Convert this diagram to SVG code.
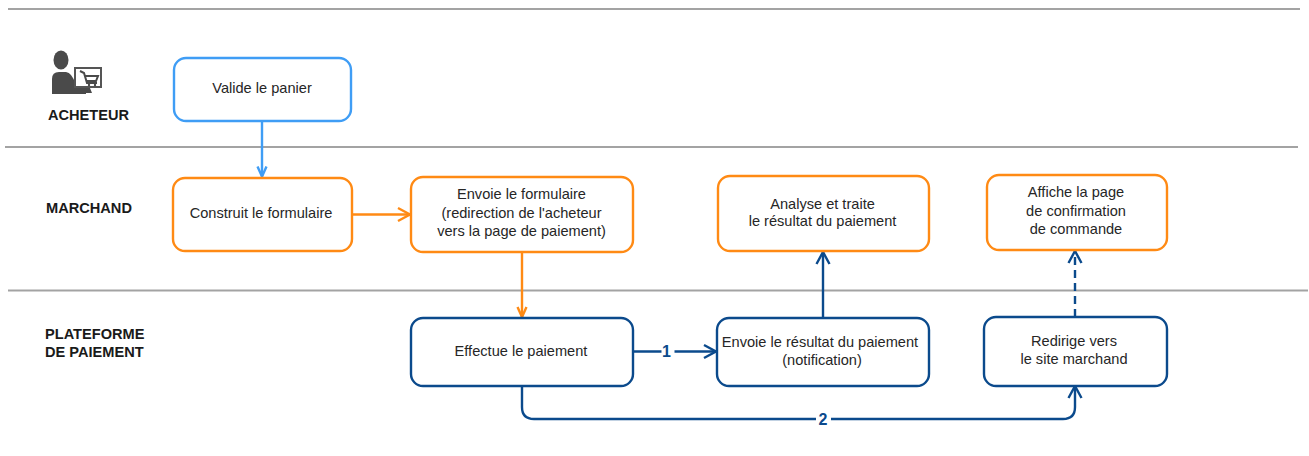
<svg xmlns="http://www.w3.org/2000/svg" width="1309" height="456" viewBox="0 0 1309 456">
<defs>
<marker id="ab" markerUnits="userSpaceOnUse" markerWidth="18" markerHeight="18" refX="14" refY="9" orient="auto"><path d="M2 2.500L14 9L2 15.500" fill="none" stroke="context-stroke" stroke-width="2.400"/></marker>
<marker id="as" markerUnits="userSpaceOnUse" markerWidth="16" markerHeight="16" refX="12" refY="8" orient="auto"><path d="M2 3.500L12 8L2 12.500" fill="none" stroke="context-stroke" stroke-width="2.400"/></marker>
</defs>
<style>
text{font-family:"Liberation Sans",Arial,sans-serif;font-size:14.6px;fill:#262626;text-anchor:middle}
.h{font-weight:bold;text-anchor:start;fill:#1a1a1a}
.b{fill:#fff;stroke-width:2.4}
.blue{stroke:#3f9df5}.or{stroke:#ff8a14}.nv{stroke:#0b4a8c}
.c{fill:none;stroke-width:2.4;marker-end:url(#ab)}
.s{marker-end:url(#as)}
.sep{stroke:#a3a3a3;stroke-width:2}
.n{fill:#0b4a8c;font-weight:bold;font-size:16px}
</style>
<rect width="1309" height="456" fill="#fff"/>
<g id="separators">
<line class="sep" x1="8" y1="9" x2="1300" y2="9"/>
<line class="sep" x1="5" y1="147" x2="1298" y2="147"/>
<line class="sep" x1="8" y1="290.500" x2="1308" y2="290.500"/>
</g>
<g id="lane-acheteur">
<g fill="#4a4a4a"><ellipse cx="61" cy="60" rx="7.500" ry="9.500"/><path d="M52 94V79Q52 72 59 72H66Q72 73 75 83L79 88H90L92 93H86V94Z"/></g>
<rect x="75" y="68" width="26" height="19" fill="#fff" stroke="#555" stroke-width="2"/>
<path d="M80 71L84 73L87 83H97M85 76H98L96 81H86" fill="none" stroke="#4a4a4a" stroke-width="2"/>
<circle cx="89" cy="85" r="1.200" fill="#4a4a4a"/><circle cx="95" cy="85" r="1.200" fill="#4a4a4a"/>
<text class="h" x="48" y="120">ACHETEUR</text>
</g>
<text id="lane-marchand" class="h" x="46" y="213">MARCHAND</text>
<g id="lane-plateforme"><text class="h" x="45" y="339">PLATEFORME</text><text class="h" x="45" y="357">DE PAIEMENT</text></g>
<g id="connectors">
<path class="c s blue" d="M262 121V176.500"/>
<path class="c or" d="M352 214.500H410"/>
<path class="c s or" d="M522 252V317"/>
<path class="c nv" d="M823 318V252"/>
<path class="c nv" d="M1075 317V251" stroke-dasharray="8 5"/>
<path class="c nv" d="M632 351.500H716"/>
<path class="c nv" d="M522 386V407Q522 419 534 419H1063Q1075 419 1075 407V386"/>
<rect x="661.500" y="343" width="13" height="17" fill="#fff"/><text class="n" x="666.500" y="357">1</text>
<rect x="816" y="411" width="15" height="17" fill="#fff"/><text class="n" x="823" y="425">2</text>
</g>
<g id="n1"><rect class="b blue" x="174" y="58" width="177" height="63" rx="12"/><text x="262" y="93">Valide le panier</text></g>
<g id="n2"><rect class="b or" x="173" y="178" width="179" height="73" rx="12"/><text x="261" y="218">Construit le formulaire</text></g>
<g id="n3"><rect class="b or" x="411" y="177" width="222" height="75" rx="12"/><text x="521.500" y="199">Envoie le formulaire</text><text x="521.500" y="218">(redirection de l'acheteur</text><text x="521.500" y="236">vers la page de paiement)</text></g>
<g id="n4"><rect class="b or" x="718" y="176" width="211" height="75" rx="12"/><text x="822.500" y="209">Analyse et traite</text><text x="822.500" y="226">le résultat du paiement</text></g>
<g id="n5"><rect class="b or" x="987" y="175" width="180" height="75" rx="12"/><text x="1076" y="197">Affiche la page</text><text x="1076" y="216">de confirmation</text><text x="1076" y="234">de commande</text></g>
<g id="n6"><rect class="b nv" x="411" y="318" width="222" height="68" rx="12"/><text x="521" y="356">Effectue le paiement</text></g>
<g id="n7"><rect class="b nv" x="717" y="318" width="212" height="68" rx="12"/><text x="820" y="347">Envoie le résultat du paiement</text><text x="822" y="365">(notification)</text></g>
<g id="n8"><rect class="b nv" x="984" y="317" width="183" height="69" rx="12"/><text x="1074" y="346">Redirige vers</text><text x="1074" y="364">le site marchand</text></g>
</svg>
